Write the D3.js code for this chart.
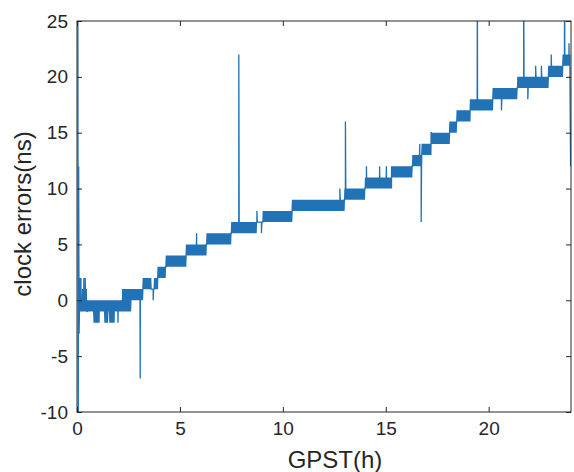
<!DOCTYPE html>
<html>
	<head>
		<meta charset="utf-8">
		<title>clock errors</title>
		<style>
* {
	margin: 0;
	padding: 0;
}
html,
body {
	width: 574px;
	height: 472px;
	background: #fff;
	overflow: hidden;
}
svg {
	display: block;
}
.axis text {
	font-family: "Liberation Sans", Arial, Helvetica, sans-serif;
	font-size: 19px;
	fill: #262626;
}
.axis line {
	stroke: #262626;
}
.label {
	font-family: "Liberation Sans", Arial, Helvetica, sans-serif;
	font-size: 24px;
	fill: #262626;
}
		</style>
	</head>
	<body>
		<div id="chart"></div>
		<script src="https://cdn.jsdelivr.net/npm/d3@7/dist/d3.min.js"></script>
		<script>

// bands where the clock error flips between two levels (hours, ns)
var bandStart = [0.12, 0.49, 0.83, 1.10, 1.36, 1.50, 1.60, 1.84, 2.20, 2.62, 3.20, 3.60, 3.75, 3.92, 4.32, 5.30, 6.30, 7.50, 8.74, 9.03, 10.45, 13.00, 14.00, 15.30, 16.30, 16.75, 17.20, 18.10, 18.45, 19.10, 20.20, 21.40, 22.90, 23.60];
var bandLow  = [-1, -1, -2, -1, -2, -1, -2, -1, -1, 0, 1, 1, 1, 2, 3, 4, 5, 6, 7, 7, 8, 9, 10, 11, 12, 13, 14, 15, 16, 17, 18, 19, 20, 21];
var bandHigh = [0, 0, 0, 0, 0, 0, 0, 0, 1, 1, 2, 1, 2, 3, 4, 5, 6, 7, 7, 8, 9, 10, 11, 12, 13, 14, 15, 16, 17, 18, 19, 20, 21, 22];
var bandEnd = 23.95;

// single epochs off the band (outliers, start and end)
var spikeHour  = [0.04, 0.06, 0.08, 0.10, 0.15, 0.19, 0.27, 0.33, 0.40, 0.45, 1.99, 3.07, 3.70, 5.81, 7.86, 8.74, 8.96, 12.77, 13.04, 14.06, 14.70, 15.03, 15.28, 16.65, 16.72, 17.20, 19.45, 20.62, 21.70, 21.90, 22.28, 22.56, 23.04, 23.69, 23.90, 23.98];
var spikeValue = [30, -12, 12, -3, 2, 2, 1, 2, 2, 1, -2, -7, 0, 6, 22, 8, 6, 10, 16, 12, 12, 12, 12, 14, 7, 15, 30, 17, 30, 18, 21, 21, 22, 30, 23, 12];

var xTicks = [0, 5, 10, 15, 20];
var yTicks = [-10, -5, 0, 5, 10, 15, 20, 25];

var width = 574;
var height = 472;
var margin = { top: 21, right: 3, bottom: 60, left: 77 };
var innerW = width - margin.left - margin.right;
var innerH = height - margin.top - margin.bottom;

// expand the bands into epochs
var series = [];
bandStart.forEach( function ( t0, i ) {
	var t1 = i < bandStart.length - 1 ? bandStart[i + 1] : bandEnd;
	var k = 0;
	for ( var t = t0; t < t1 - 1e-9; t += 0.02 ) {
		series.push( { h: t, v: k % 2 ? bandHigh[i] : bandLow[i] } );
		k++;
	}
} );
spikeHour.forEach( function ( h, i ) {
	series.push( { h: h + 0.001, v: spikeValue[i] } );
} );
series.sort( function ( a, b ) { return a.h - b.h; } );

var x = d3.scaleLinear().domain( [ 0, 24 ] ).range( [ 0, innerW ] );
var y = d3.scaleLinear().domain( [ -10, 25 ] ).range( [ innerH, 0 ] );

var svg = d3.select( '#chart' ).append( 'svg' )
	.attr( 'width', width )
	.attr( 'height', height );

var g = svg.append( 'g' )
	.attr( 'transform', 'translate(' + margin.left + ',' + margin.top + ')' );

g.append( 'clipPath' )
	.attr( 'id', 'clip' )
	.append( 'rect' )
	.attr( 'width', innerW )
	.attr( 'height', innerH );

var line = d3.line()
	.x( function ( d ) { return x( d.h ); } )
	.y( function ( d ) { return y( d.v ); } );

g.append( 'path' )
	.datum( series )
	.attr( 'clip-path', 'url(#clip)' )
	.attr( 'd', line )
	.style( 'fill', 'none' )
	.style( 'stroke', '#2272b6' )
	.style( 'stroke-width', 1.3 );

// plain hyphen minus like the original
var fmt = function ( d ) { return String( d ); };

// axes, ticks pointing inward on all four sides
g.append( 'g' )
	.attr( 'class', 'axis' )
	.attr( 'transform', 'translate(0,' + innerH + ')' )
	.call( d3.axisBottom( x ).tickValues( xTicks ).tickSizeInner( -5 ).tickSizeOuter( 0 ).tickPadding( 10 ).tickFormat( fmt ) );

g.append( 'g' )
	.attr( 'class', 'axis' )
	.call( d3.axisTop( x ).tickValues( xTicks ).tickSizeInner( -5 ).tickSizeOuter( 0 ).tickFormat( '' ) );

g.append( 'g' )
	.attr( 'class', 'axis' )
	.call( d3.axisLeft( y ).tickValues( yTicks ).tickSizeInner( -5 ).tickSizeOuter( 0 ).tickPadding( 9 ).tickFormat( fmt ) );

g.append( 'g' )
	.attr( 'class', 'axis' )
	.attr( 'transform', 'translate(' + innerW + ',0)' )
	.call( d3.axisRight( y ).tickValues( yTicks ).tickSizeInner( -5 ).tickSizeOuter( 0 ).tickFormat( '' ) );

g.selectAll( '.axis .domain' ).remove();

g.append( 'rect' )
	.attr( 'width', innerW )
	.attr( 'height', innerH )
	.style( 'fill', 'none' )
	.style( 'stroke', '#262626' )
	.style( 'stroke-width', 1 );

svg.append( 'text' )
	.attr( 'class', 'label' )
	.attr( 'x', 335 )
	.attr( 'y', 468 )
	.attr( 'text-anchor', 'middle' )
	.text( 'GPST(h)' );

svg.append( 'text' )
	.attr( 'class', 'label' )
	.attr( 'transform', 'translate(31,214) rotate(-90)' )
	.attr( 'text-anchor', 'middle' )
	.text( 'clock errors(ns)' );

		</script>
	</body>
</html>
